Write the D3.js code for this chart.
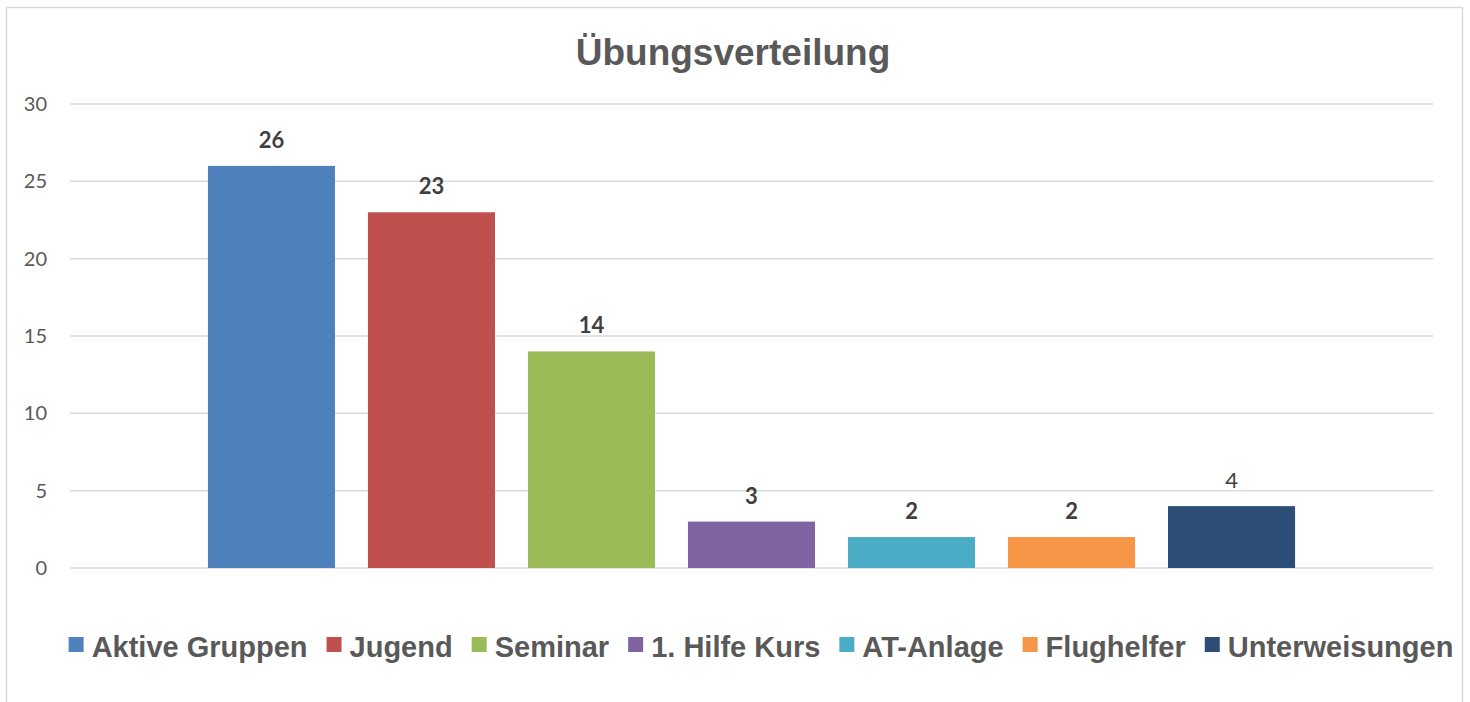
<!DOCTYPE html>
<html lang="de">
<head>
    <meta charset="UTF-8">
    <title>Übungsverteilung</title>
    <script src="https://d3js.org/d3.v7.min.js"></script>
    <style>
        body { margin: 0; background: #fff; }
    </style>
</head>
<body>
    <div id="chart"></div>
    <script>
        // data
        const series = ["Aktive Gruppen", "Jugend", "Seminar", "1. Hilfe Kurs", "AT-Anlage", "Flughelfer", "Unterweisungen"];
        const values = [26, 23, 14, 3, 2, 2, 4];
        const boldLabel = [true, true, true, true, true, true, false];
        const colors = ["#4F81BD", "#C0504D", "#9BBB59", "#8064A2", "#4BACC6", "#F79646", "#2C4D75"];
        const yTicks = [0, 5, 10, 15, 20, 25, 30];

        const W = 1470, H = 702;
        const plot = { left: 70, right: 1433, top: 104, bottom: 568 };

        const svg = d3.select("#chart").append("svg")
            .attr("width", W)
            .attr("height", H);

        // chart border
        svg.append("rect")
            .attr("x", 6.5).attr("y", 7.5)
            .attr("width", 1456).attr("height", 720)
            .attr("fill", "none")
            .attr("stroke", "#d9d9d9")
            .attr("stroke-width", 1.5);

        // title
        svg.append("text")
            .attr("x", 733).attr("y", 65)
            .attr("text-anchor", "middle")
            .attr("font-family", "Liberation Sans, Arial, sans-serif")
            .attr("font-weight", "bold")
            .attr("font-size", 37)
            .attr("fill", "#595959")
            .text("Übungsverteilung");

        const y = d3.scaleLinear().domain([0, 30]).range([plot.bottom, plot.top]);
        const x = d3.scaleBand().domain(series)
            .range([plot.left, plot.right])
            .paddingInner(0.206)
            .paddingOuter(0.862);

        // gridlines
        svg.append("g")
            .selectAll("line")
            .data(yTicks)
            .join("line")
            .attr("x1", plot.left).attr("x2", plot.right)
            .attr("y1", d => y(d)).attr("y2", d => y(d))
            .attr("stroke", "#d9d9d9")
            .attr("stroke-width", 1.5);

        // y axis labels
        const yAxis = d3.axisLeft(y).tickValues(yTicks).tickSize(0).tickPadding(0);
        const gy = svg.append("g")
            .attr("transform", "translate(47,0)")
            .call(yAxis);
        gy.select(".domain").remove();
        gy.selectAll("text")
            .attr("font-family", "Lato, sans-serif")
            .attr("font-size", 20)
            .attr("fill", "#595959");

        // bars
        svg.append("g")
            .selectAll("rect")
            .data(series)
            .join("rect")
            .attr("x", d => x(d))
            .attr("width", x.bandwidth())
            .attr("y", (d, i) => y(values[i]))
            .attr("height", (d, i) => y(0) - y(values[i]))
            .attr("fill", (d, i) => colors[i]);

        // value labels
        svg.append("g")
            .selectAll("text")
            .data(series)
            .join("text")
            .attr("x", d => x(d) + x.bandwidth() / 2)
            .attr("y", (d, i) => y(values[i]) - 18)
            .attr("text-anchor", "middle")
            .attr("font-family", "Lato, sans-serif")
            .attr("font-size", 22)
            .attr("font-weight", (d, i) => boldLabel[i] ? "bold" : "normal")
            .attr("fill", "#404040")
            .text((d, i) => values[i]);

        // legend
        const legend = svg.append("g");
        const items = legend.selectAll("g")
            .data(series)
            .join("g");
        items.append("rect")
            .attr("width", 15).attr("height", 15)
            .attr("y", -20)
            .attr("fill", (d, i) => colors[i]);
        items.append("text")
            .attr("x", 23)
            .attr("font-family", "Liberation Sans, Arial, sans-serif")
            .attr("font-weight", "bold")
            .attr("font-size", 29)
            .attr("fill", "#595959")
            .text(d => d);

        let cx = 0;
        items.each(function () {
            const w = this.querySelector("text").getComputedTextLength();
            d3.select(this).attr("transform", `translate(${cx},0)`);
            cx += 23 + w + 19;
        });
        const total = cx - 19;
        legend.attr("transform", `translate(${761 - total / 2},657)`);
    </script>
</body>
</html>
